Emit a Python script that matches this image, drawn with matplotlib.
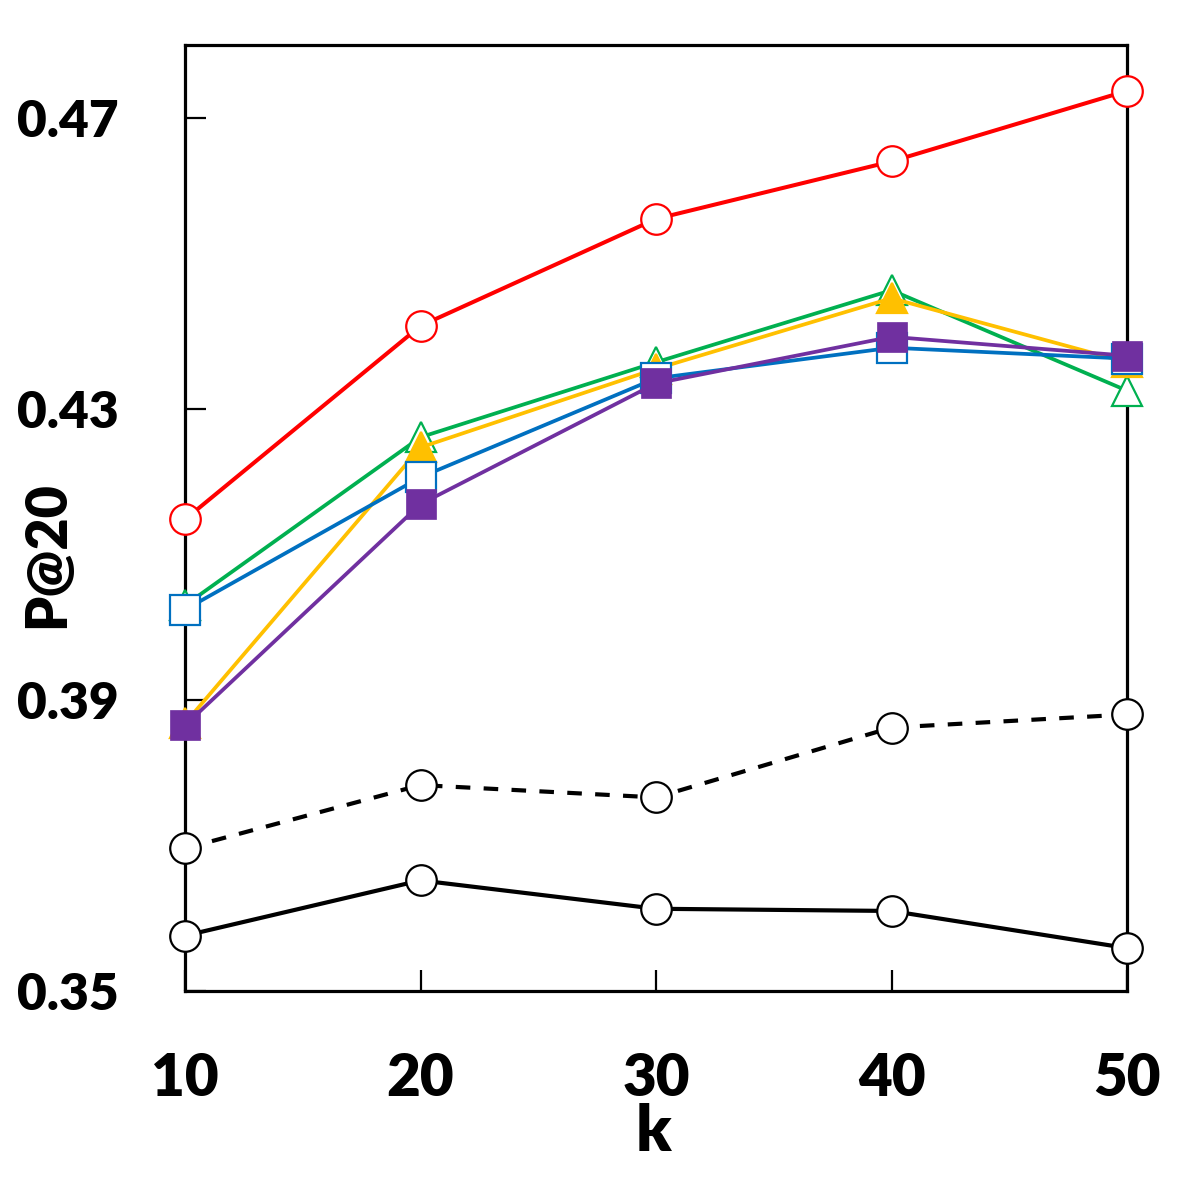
import numpy as np
import matplotlib.pyplot as plt

# valores de k
k = [10, 20, 30, 40, 50]

# P@20 de cada método
rojo = [0.4148, 0.4414, 0.4561, 0.4640, 0.4737]
verde = [0.4030, 0.4261, 0.4364, 0.4463, 0.4325]
amarillo = [0.3868, 0.4247, 0.4355, 0.4452, 0.4364]
azul = [0.4024, 0.4206, 0.4342, 0.4384, 0.4369]
morado = [0.3865, 0.4169, 0.4335, 0.4399, 0.4373]
negro_discontinuo = [0.3696, 0.3783, 0.3766, 0.3862, 0.3880]
negro_continuo = [0.3576, 0.3652, 0.3613, 0.3610, 0.3559]

yticks = [0.35, 0.39, 0.43, 0.47]

plt.rcParams['font.family'] = ['Lato', 'DejaVu Sans']
plt.rcParams['font.weight'] = 'heavy'

fig = plt.figure(figsize=(11.81, 11.81), dpi=100)
ax = fig.add_axes([185 / 1181, 190 / 1181, 942 / 1181, 946 / 1181])

ms = 22
lw = 2.7
mew = 1.6

ax.plot(k, verde, color='#00B050', lw=lw, marker='^', ms=ms,
        mfc='white', mec='#00B050', mew=mew, zorder=3, clip_on=False)
ax.plot(k, amarillo, color='#FFC000', lw=lw, marker='^', ms=ms,
        mfc='#FFC000', mec='#FFC000', mew=mew, zorder=4, clip_on=False)
ax.plot(k, azul, color='#0070C0', lw=lw, marker='s', ms=ms - 1,
        mfc='white', mec='#0070C0', mew=mew, zorder=5, clip_on=False)
ax.plot(k, morado, color='#7030A0', lw=lw, marker='s', ms=ms - 1,
        mfc='#7030A0', mec='#7030A0', mew=0.5, zorder=6, clip_on=False)
ax.plot(k, rojo, color='#FF0000', lw=lw + 0.2, marker='o', ms=ms,
        mfc='white', mec='#FF0000', mew=mew, zorder=7, clip_on=False)
ax.plot(k, negro_discontinuo, color='black', lw=3.0, dashes=(3.5, 3.2),
        marker='o', ms=ms, mfc='white', mec='black', mew=mew, zorder=7,
        clip_on=False)
ax.plot(k, negro_continuo, color='black', lw=3.0, marker='o', ms=ms,
        mfc='white', mec='black', mew=mew, zorder=7, clip_on=False)

ax.set_xlim(10, 50)
ax.set_ylim(0.35, 0.48)
ax.set_xticks(k)
ax.set_yticks(yticks)
ax.set_yticklabels(['%.2f' % v for v in yticks])

for s in ax.spines.values():
    s.set_linewidth(2.3)

ax.tick_params(axis='x', direction='in', length=15, width=1.6, pad=44,
               labelsize=42)
ax.tick_params(axis='y', direction='in', length=15, width=1.6, pad=48,
               labelsize=37)

ax.text(0.497, -0.15, 'k', transform=ax.transAxes, ha='center',
        va='center', fontsize=46, fontweight='heavy')
ax.text(-0.1465, 0.461, 'P@20', transform=ax.transAxes, ha='center',
        va='center', rotation=90, fontsize=40, fontweight='heavy')

fig.savefig('out.png', dpi=100)
